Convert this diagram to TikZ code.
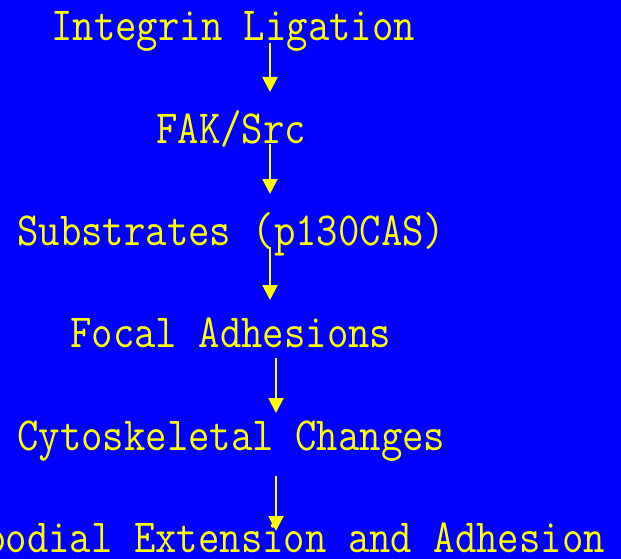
\documentclass[tikz,border=0pt]{standalone}
\usepackage{fontspec}
\setmonofont[FakeStretch=0.875]{Latin Modern Mono}
\usetikzlibrary{arrows.meta}
\definecolor{bgblue}{HTML}{0000FF}
\definecolor{fgyellow}{HTML}{FFFF00}
\tikzset{
  lbl/.style={anchor=base west, inner sep=0pt, text=fgyellow, font=\ttfamily\fontsize{47.5pt}{50pt}\selectfont},
  arr/.style={draw=fgyellow, line width=2pt, -{Triangle[width=15pt,length=15pt]}}
}
\begin{document}
\begin{tikzpicture}[x=1pt,y=-1pt]
\useasboundingbox (0,0) rectangle (621,559);
\fill[bgblue] (0,0) rectangle (621,559);
\clip (0,0) rectangle (621,559);
\node[lbl] (n1) at (51,41) {Integrin Ligation};
\node[lbl] (n2) at (156,143) {FAK/Src};
\node[lbl] (n3) at (17,245) {Substrates (p130CAS)};
\node[lbl] (n4) at (70,347) {Focal Adhesions};
\node[lbl] (n5) at (17,450) {Cytoskeletal Changes};
\node[lbl] (n6) at (-16,552) {podial Extension and Adhesion};
\coordinate (a1s) at (270,43);  \coordinate (a1e) at (270,92);
\coordinate (a2s) at (270,144); \coordinate (a2e) at (270,194);
\coordinate (a3s) at (270,247); \coordinate (a3e) at (270,300);
\coordinate (a4s) at (276,358); \coordinate (a4e) at (276,413);
\coordinate (a5s) at (276,476); \coordinate (a5e) at (276,531);
\draw[arr] (a1s) -- (a1e);
\draw[arr] (a2s) -- (a2e);
\draw[arr] (a3s) -- (a3e);
\draw[arr] (a4s) -- (a4e);
\draw[arr] (a5s) -- (a5e);
\end{tikzpicture}
\end{document}
